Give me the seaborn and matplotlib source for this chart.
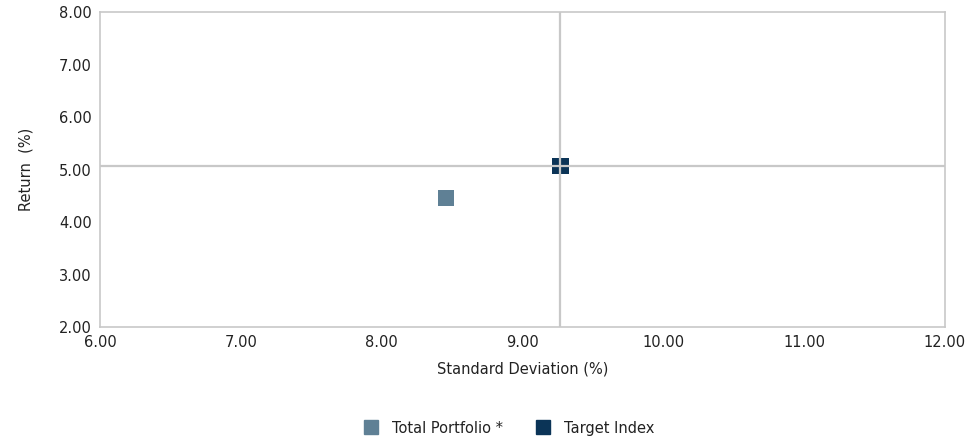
import pandas as pd
import seaborn as sns
from matplotlib import pyplot as plt

series = ["Total Portfolio *", "Target Index"]
std_dev = [8.46, 9.27]
returns = [4.45, 5.07]
colors = ["#5F8095", "#0B3457"]

x_ticks = [6, 7, 8, 9, 10, 11, 12]
y_ticks = [2, 3, 4, 5, 6, 7, 8]

df = pd.DataFrame({"series": series, "std": std_dev, "ret": returns})

sns.set_style("white")
plt.rcParams["font.family"] = ["DejaVu Sans"]

fig = plt.figure(figsize=(9.72, 4.45), dpi=100)
ax = fig.add_axes([0.103, 0.265, 0.869, 0.708])

# crosshair through the target index, drawn over the markers
ax.axvline(std_dev[1], color="#C8C8C8", lw=1.6, zorder=4)
ax.axhline(returns[1], color="#C8C8C8", lw=1.6, zorder=4)

sns.scatterplot(data=df, x="std", y="ret", hue="series", palette=colors,
                marker="s", s=135, edgecolor="none", ax=ax, zorder=3, legend=False)

ax.set_xlim(6, 12)
ax.set_ylim(2, 8)
ax.set_xticks(x_ticks)
ax.set_yticks(y_ticks)
ax.set_xticklabels([f"{t:.2f}" for t in x_ticks], fontsize=10.5, color="#222222")
ax.set_yticklabels([f"{t:.2f}" for t in y_ticks], fontsize=10.5, color="#222222")
ax.tick_params(length=0, pad=6)
ax.set_xlabel("Standard Deviation (%)", fontsize=10.5, color="#222222", labelpad=8)
ax.set_ylabel("Return  (%)", fontsize=10.5, color="#222222", labelpad=18)
for sp in ax.spines.values():
    sp.set_color("#C8C8C8")
    sp.set_linewidth(1.2)

handles = [plt.Line2D([], [], marker="s", ls="", color=c, markersize=10) for c in colors]
fig.legend(handles, series, loc="center", bbox_to_anchor=(0.52, 0.038), ncol=2,
           frameon=False, fontsize=10.5, handletextpad=0.4, columnspacing=1.8,
           labelcolor="#222222")

plt.savefig("out.png", dpi=100)
